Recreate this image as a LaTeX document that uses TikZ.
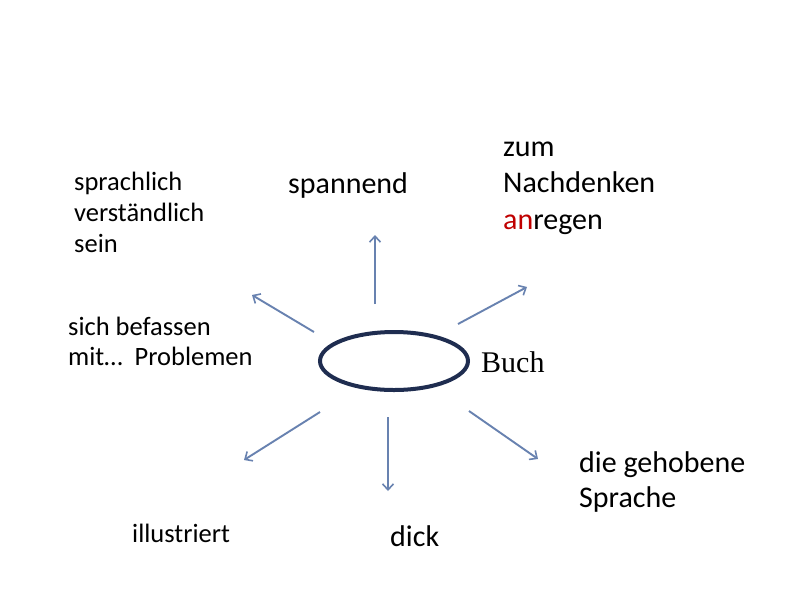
\documentclass[tikz,border=0pt]{standalone}
\usepackage{fontspec}
\setmainfont{Carlito}
\newfontfamily\timesfont{Liberation Serif}
\usetikzlibrary{arrows.meta,shapes.geometric}
\definecolor{arrowblue}{RGB}{104,130,176}
\definecolor{ringnavy}{RGB}{31,45,80}
\definecolor{redan}{RGB}{192,0,0}
\begin{document}
\begin{tikzpicture}[x=1pt,y=-1pt,
  big/.style={font=\fontsize{30}{36.5}\selectfont, inner sep=0pt, anchor=base west, align=left, text=black},
  small/.style={font=\fontsize{26.5}{31}\selectfont, inner sep=0pt, anchor=base west, align=left, text=black},
  ray/.style={draw=arrowblue, line width=1.9pt, -{Straight Barb[length=6pt,width=11pt,line width=1.6pt]}},
  ring/.style={ellipse, draw=ringnavy, line width=4pt, minimum width=148pt, minimum height=58pt, inner sep=0pt}
]
\useasboundingbox[fill=white] (0,0) rectangle (800,600);

\node[ring] (book) at (394,361) {};
\node[anchor=base west, inner sep=0pt, font=\timesfont\fontsize{30}{36}\selectfont] (buch) at (481,372) {Buch};

% multi-line nodes: base anchor lies on the last line
\node[small] (sprach) at (74,252) {sprachlich\\verständlich\\sein};
\node[big] (spann) at (288,193) {spannend};
\node[big, font=\fontsize{30}{36.5}\selectfont] (nach) at (503,229) {zum\\Nachdenken\\\textcolor{redan}{an}regen};
\node[small, font=\fontsize{26.5}{30}\selectfont] (befass) at (68,365) {sich befassen\\mit…\ \ Problemen};
\node[big, font=\fontsize{30}{35}\selectfont] (gehob) at (579,507) {die gehobene\\Sprache};
\node[small] (illu) at (132,542) {illustriert};
\node[big] (dick) at (390,546) {dick};

\coordinate (s1) at (375,304); \coordinate (e1) at (375,235);
\coordinate (s2) at (314,332); \coordinate (e2) at (252,295);
\coordinate (s3) at (458,324); \coordinate (e3) at (527,287);
\coordinate (s4) at (320,412); \coordinate (e4) at (244,460);
\coordinate (s5) at (388,417); \coordinate (e5) at (388,491);
\coordinate (s6) at (469,411); \coordinate (e6) at (538,459);

\draw[ray] (s1) -- (e1);
\draw[ray] (s2) -- (e2);
\draw[ray] (s3) -- (e3);
\draw[ray] (s4) -- (e4);
\draw[ray] (s5) -- (e5);
\draw[ray] (s6) -- (e6);
\end{tikzpicture}
\end{document}
